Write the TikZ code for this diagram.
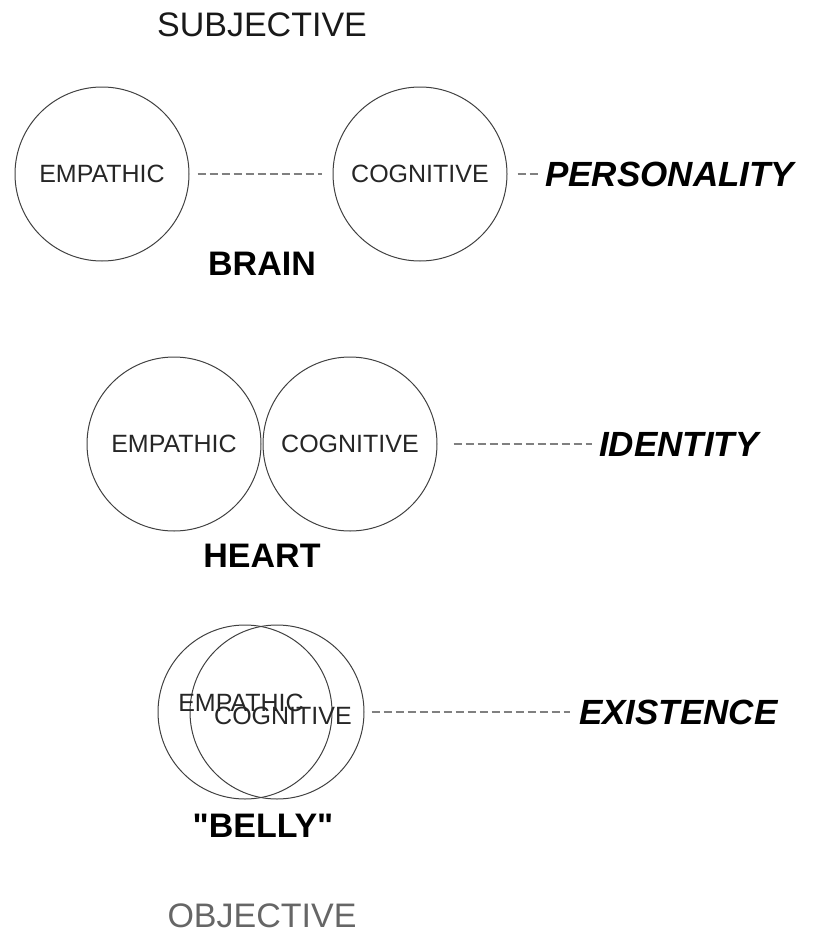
\documentclass[tikz,border=0pt]{standalone}
\usepackage{fontspec}
\setmainfont{Liberation Sans}[Ligatures=TeXOff]
\begin{document}
\begin{tikzpicture}[x=1pt,y=-1pt,
		bubble/.style={circle,draw=black!75,line width=1pt,minimum size=174pt,inner sep=0pt,
			font=\fontsize{25}{25}\selectfont,text=black!85},
		tag/.style={font=\fontsize{25}{25}\selectfont,text=black!85,inner sep=0pt},
		head/.style={font=\fontsize{34}{34}\selectfont\bfseries},
		side/.style={font=\fontsize{35}{35}\selectfont\bfseries\itshape,anchor=west,inner sep=0pt},
		pole/.style={font=\fontsize{34}{34}\selectfont,inner sep=0pt},
		link/.style={draw=black!50,line width=2.2pt,dash pattern=on 8pt off 4pt}]
		\useasboundingbox (0,0) rectangle (813,934);
		\node[pole,text=black!90] (subj) at (262,25) {SUBJECTIVE};
		
		% brain: the two circles stand apart
		\node[bubble] (emp1) at (102,174) {EMPATHIC};
		\node[bubble] (cog1) at (420,174) {COGNITIVE};
		\node[side] (pers) at (545,174) {PERSONALITY};
		\node[head] (brain) at (262,264) {BRAIN};
		\draw[link,shorten <=8pt,shorten >=11pt] (emp1) -- (cog1);
		\draw[link,shorten <=10pt,shorten >=5pt] (cog1) -- (pers);
		
		% heart: the circles touch
		\node[bubble] (emp2) at (174,444) {EMPATHIC};
		\node[bubble] (cog2) at (350,444) {COGNITIVE};
		\node[side] (ident) at (599,444) {IDENTITY};
		\node[head] (heart) at (262,556) {HEART};
		\draw[link,shorten <=16pt,shorten >=7pt] (cog2) -- (ident);
		
		% belly: the circles almost coincide
		\node[bubble] (emp3) at (245,712) {};
		\node[bubble] (cog3) at (277,712) {};
		\node[tag] (emptag) at (241,703) {EMPATHIC};
		\node[tag] (cogtag) at (283,716) {COGNITIVE};
		\node[side] (exist) at (579,712) {EXISTENCE};
		\node[head] (belly) at (263,826) {"BELLY"};
		\draw[link,shorten <=7pt,shorten >=9pt] (cog3) -- (exist);
		
		\node[pole,text=black!60] (obj) at (262,916) {OBJECTIVE};
	\end{tikzpicture}
\end{document}
